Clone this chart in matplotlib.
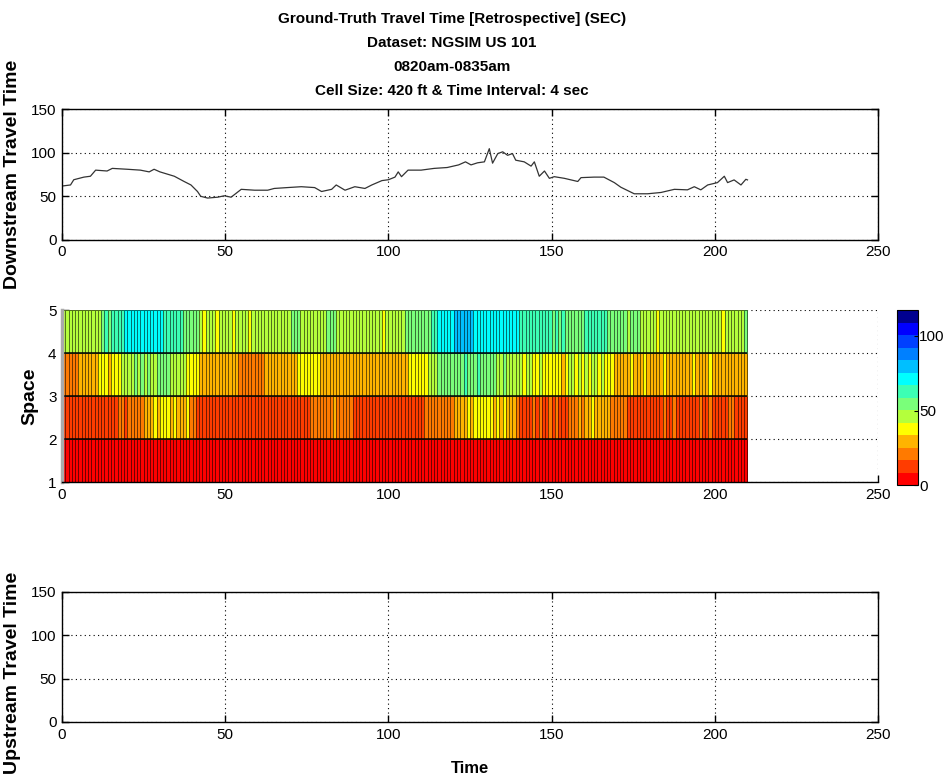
import numpy as np
import matplotlib
matplotlib.use('Agg')
import matplotlib.pyplot as plt
from matplotlib.colors import ListedColormap, Normalize

# ---------------- data ----------------
title_lines = ["Ground-Truth Travel Time [Retrospective] (SEC)",
               "Dataset: NGSIM US 101",
               "0820am-0835am",
               "Cell Size: 420 ft & Time Interval: 4 sec"]

down_t = [0.5, 2.6, 3.6, 6.7, 8.7, 10.3, 13.8, 15.4, 20, 24, 26.7, 28.2, 30, 34.4, 37.4,
          39.5, 41.5, 42.5, 44.6, 47.7, 49.7, 51.8, 54.9, 59, 63, 65, 69, 73.3, 77.4, 79.5,
          82.6, 84, 86.7, 89.7, 92.8, 94.9, 98, 100, 102, 103, 104, 106, 110, 114, 118,
          121.5, 123.6, 125.3, 127.3, 129.4, 130.9, 131.9, 133.5, 135, 136.5, 138, 139,
          141.6, 143.7, 144.7, 146.2, 147.8, 149.3, 150.8, 153.9, 158, 159, 163, 166,
          169.2, 171.2, 175.3, 179.4, 183.5, 187.6, 191.6, 193.7, 195.7, 197.8, 200.8,
          202.9, 203.9, 205.9, 208, 209.5, 210]
down_v = [62, 63, 69, 72, 73, 80, 79, 82, 81, 80, 78, 81, 78, 73, 67,
          63, 55.5, 50, 48, 49, 50.6, 49, 58, 57, 57, 59, 60, 61, 60, 55.5,
          58, 63, 57, 61, 59, 63, 68, 69, 72, 78, 72.5, 80, 80, 82, 83,
          86, 89.5, 86, 88.4, 89.5, 104.6, 88, 99, 101, 97, 99, 91.4,
          89.5, 84.6, 89.5, 73, 79, 70.6, 72.5, 70.6, 67, 71.4, 72, 72,
          65.7, 60.4, 52.9, 52.9, 54.4, 58, 57.4, 61, 57.4, 63, 65.7,
          73, 65.7, 68.8, 63, 69.5, 68.8]

space_edges = [1, 2, 3, 4, 5]

space_1_2 = [3, 4, 2, 5, 3, 4, 6, 3, 2, 4, 5, 3, 4, 2, 6, 3, 4, 5, 3, 2,
             4, 3, 5, 6, 3, 4, 2, 3, 5, 4, 3, 6, 4, 2, 3, 5, 4, 3, 2, 4,
             5, 3, 4, 6, 3, 2, 4, 5, 3, 4, 2, 3, 5, 4, 6, 3, 2, 4, 3, 5,
             4, 3, 2, 5, 4, 6, 3, 4, 2, 3, 5, 4, 3, 2, 6, 4, 3, 5, 4, 2,
             3, 4, 5, 3, 2, 4, 6, 3, 4, 5, 2, 3, 4, 5, 3, 6, 4, 2, 3, 4,
             5, 3, 2, 4, 6, 3, 4, 5, 2, 3, 4, 3, 5, 6, 4, 2, 3, 4, 5, 3,
             2, 4, 3, 6, 5, 4, 3, 2, 4, 5, 3, 4, 6, 2, 3, 5, 4, 3, 2, 4,
             5, 6, 3, 4, 2, 3, 5, 4, 3, 6, 2, 4, 5, 3, 4, 2, 3, 5, 6, 4,
             3, 2, 4, 5, 3, 4, 6, 2, 3, 5, 4, 3, 2, 4, 5, 6, 3, 4, 2, 3,
             5, 4, 3, 6, 2, 4, 3, 5, 4, 2, 3, 6, 5, 4, 3, 2, 4, 5, 3, 4,
             3, 5, 4, 2, 6, 3, 4, 5, 3, 4]
space_2_3 = [12, 14, 11, 13, 15, 12, 10, 14, 13, 11,
             15, 12, 14, 13, 11, 16, 12, 20, 18, 14,
             22, 19, 17, 24, 21, 29, 33, 31, 35, 30,
             37, 34, 38, 32, 36, 33, 30, 28, 34, 24,
             22, 16, 14, 12, 15, 13, 16, 14, 12, 15,
             13, 16, 12, 14, 11, 13, 15, 12, 14, 13,
             12, 15, 13, 11, 14, 12, 16, 13, 15, 12,
             14, 11, 13, 15, 12, 14, 19, 22, 20, 24,
             21, 18, 23, 26, 22, 20, 25, 19, 21, 14,
             12, 15, 13, 14, 11, 16, 12, 14, 13, 15,
             12, 14, 13, 11, 15, 12, 14, 13, 12, 16,
             14, 18, 22, 20, 24, 21, 23, 19, 25, 22,
             26, 28, 30, 33, 35, 31, 36, 38, 34, 37,
             39, 35, 33, 36, 32, 34, 30, 28, 31, 22,
             16, 13, 15, 12, 18, 14, 20, 13, 15, 17,
             12, 19, 14, 16, 13, 22, 25, 21, 28, 24,
             30, 27, 35, 29, 32, 26, 33, 28, 24, 22,
             20, 23, 18, 14, 12, 15, 13, 11, 16, 14,
             12, 15, 13, 14, 17, 12, 14, 20, 13, 15,
             12, 14, 16, 13, 15, 21, 14, 12, 18, 15,
             13, 12, 15, 14, 20, 22, 13, 14, 12, 16]
space_3_4 = [22, 20, 24, 21, 23, 28, 30, 27, 29, 31,
             28, 38, 36, 40, 33, 37, 39, 34, 45, 47,
             50, 48, 52, 47, 51, 49, 53, 50, 48, 52,
             51, 54, 52, 49, 50, 47, 48, 45, 40, 38,
             39, 37, 30, 28, 31, 29, 27, 30, 32, 28,
             29, 31, 27, 26, 24, 22, 20, 25, 23, 21,
             24, 22, 26, 28, 30, 27, 29, 31, 28, 26,
             30, 33, 37, 39, 35, 40, 38, 36, 34, 31,
             30, 28, 32, 27, 31, 29, 33, 30, 28, 31,
             29, 32, 30, 27, 31, 28, 33, 29, 30, 32,
             31, 28, 30, 29, 32, 30, 36, 34, 38, 39,
             35, 37, 44, 47, 50, 52, 55, 53, 56, 58,
             57, 54, 56, 59, 55, 53, 57, 60, 56, 54,
             55, 52, 53, 50, 48, 51, 49, 47, 46, 44,
             45, 39, 42, 44, 36, 40, 43, 38, 41, 37,
             35, 38, 40, 33, 37, 42, 44, 40, 46, 38,
             44, 36, 42, 45, 39, 43, 37, 41, 35, 32,
             30, 33, 29, 31, 35, 28, 32, 30, 34, 29,
             31, 33, 28, 30, 36, 32, 29, 31, 33, 30,
             29, 32, 30, 34, 28, 31, 33, 29, 36, 30,
             32, 30, 29, 33, 31, 28, 30, 32, 29, 31]
space_4_5 = [46, 44, 47, 45, 43, 48, 45, 44, 46, 47,
             46, 45, 58, 60, 57, 62, 60, 63, 65, 70,
             72, 70, 74, 71, 73, 70, 72, 74, 71, 70,
             68, 66, 62, 60, 63, 59, 61, 55, 53, 56,
             52, 54, 44, 40, 46, 42, 45, 41, 44, 47,
             43, 46, 40, 45, 44, 42, 47, 41, 45, 43,
             46, 44, 48, 45, 47, 49, 44, 46, 50, 48,
             52, 55, 53, 47, 46, 48, 45, 50, 47, 46,
             44, 58, 55, 54, 48, 46, 47, 45, 49, 46,
             47, 45, 48, 46, 44, 47, 49, 46, 40, 45,
             47, 46, 48, 50, 48, 52, 51, 54, 55, 53,
             56, 58, 57, 60, 65, 70, 68, 72, 74, 73,
             78, 80, 82, 79, 81, 77, 75, 72, 74, 70,
             72, 73, 70, 74, 71, 69, 72, 70, 73, 68,
             65, 62, 63, 60, 64, 61, 66, 62, 59, 61,
             58, 60, 56, 59, 55, 57, 54, 53, 56, 55,
             60, 62, 61, 63, 60, 64, 62, 58, 56, 54,
             55, 52, 54, 50, 53, 51, 52, 49, 47, 48,
             46, 45, 40, 47, 44, 46, 45, 43, 47, 44,
             46, 45, 48, 44, 46, 47, 45, 43, 46, 44,
             45, 47, 40, 46, 44, 45, 47, 46, 48, 52]

cbar_ticks = [0, 50, 100]
x_ticks = [0, 50, 100, 150, 200, 250]
tt_ticks = [0, 50, 100, 150]
space_ticks = [1, 2, 3, 4, 5]

# colormap sampled from the colour bar (bottom -> top)
band_colors = ['#ff0000', '#ff3c00', '#ff7a00', '#ffb400', '#ffff00', '#b4ff3c',
               '#7aff7a', '#3cffb4', '#00ffff', '#00bfff', '#0080ff', '#0040ff',
               '#0000ff', '#00008f']

# ---------------- style ----------------
NARROW = ['Liberation Sans Narrow', 'Liberation Sans', 'DejaVu Sans']
plt.rcParams['font.family'] = NARROW
plt.rcParams['xtick.direction'] = 'in'
plt.rcParams['ytick.direction'] = 'in'

fig = plt.figure(figsize=(9.47, 7.79), dpi=100)

grid_kw = dict(color='black', linestyle=(0, (1, 3)), linewidth=0.8)
tick_fs = 11
lab_fs = 14


def style_tt(ax):
    ax.set_xlim(0, 250)
    ax.set_ylim(0, 150)
    ax.set_xticks(x_ticks)
    ax.set_yticks(tt_ticks)
    ax.tick_params(top=True, right=True, length=5, width=1, labelsize=tick_fs, pad=4)
    for s in ax.spines.values():
        s.set_linewidth(1.0)
    ax.grid(True, **grid_kw)


# top: downstream
ax1 = fig.add_axes([0.0655, 0.692, 0.8617, 0.168])
ax1.plot(down_t, down_v, color='#333333', linewidth=0.9)
style_tt(ax1)
ax1.set_ylabel('Downstream Travel Time', fontsize=lab_fs, fontweight='bold')
ax1.yaxis.set_label_coords(-0.050, 0.5)

# title lines
for i, line in enumerate(title_lines):
    fig.text(0.477, 0.976 - i * 0.031, line, ha='center', va='center',
             fontsize=11, fontweight='bold')

# middle: heatmap
ax2 = fig.add_axes([0.0655, 0.381, 0.8617, 0.221])
heat = np.array([space_1_2, space_2_3, space_3_4, space_4_5])
time_edges = np.arange(heat.shape[1] + 1)
cmap = ListedColormap(band_colors)
norm = Normalize(vmin=0, vmax=117)
mesh = ax2.pcolormesh(time_edges, space_edges, heat, cmap=cmap, norm=norm,
                      edgecolors=(0, 0, 0, 0.55), linewidth=0.45)
ax2.hlines(space_edges[1:-1], time_edges[0], time_edges[-1], colors='black', linewidth=1.1)
ax2.set_xlim(0, 250)
ax2.set_ylim(1, 5)
ax2.set_xticks(x_ticks)
ax2.set_yticks(space_ticks)
ax2.set_axisbelow(True)
ax2.grid(True, **grid_kw)
ax2.spines['top'].set_visible(False)
ax2.spines['right'].set_visible(False)
ax2.spines['left'].set_color('#aaaaaa')
ax2.spines['left'].set_linewidth(2.5)
ax2.spines['bottom'].set_linewidth(1.0)
ax2.tick_params(length=5, width=1, labelsize=tick_fs, pad=4)
ax2.set_ylabel('Space', fontsize=lab_fs, fontweight='bold')
ax2.yaxis.set_label_coords(-0.029, 0.5)

cax = fig.add_axes([0.947, 0.377, 0.022, 0.2246])
cb = fig.colorbar(mesh, cax=cax, ticks=cbar_ticks)
cb.ax.tick_params(direction='in', length=3, labelsize=tick_fs, pad=1)
cb.outline.set_linewidth(0.8)

# bottom: upstream (no data)
ax3 = fig.add_axes([0.0655, 0.0732, 0.8617, 0.167])
style_tt(ax3)
ax3.set_ylabel('Upstream Travel Time', fontsize=lab_fs, fontweight='bold')
ax3.yaxis.set_label_coords(-0.050, 0.38)
ax3.set_xlabel('Time', fontsize=12, fontweight='bold', labelpad=14)

fig.savefig('out.png', dpi=100)
